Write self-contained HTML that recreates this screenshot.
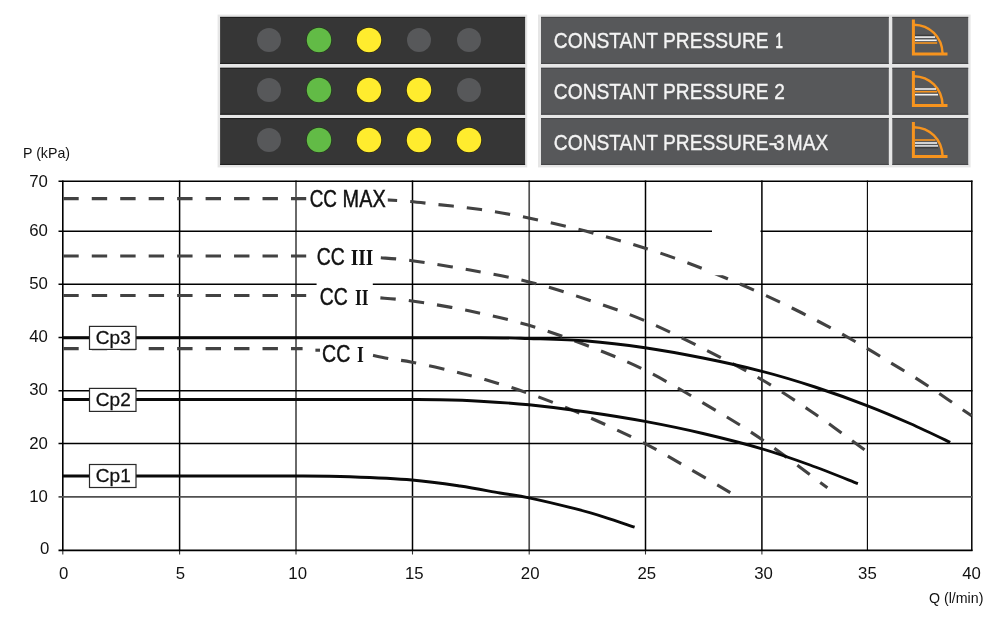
<!DOCTYPE html>
<html><head><meta charset="utf-8"><title>Pump curves</title>
<style>html,body{margin:0;padding:0;background:#fff}body{width:1000px;height:619px;position:relative;overflow:hidden;font-family:"Liberation Sans",sans-serif}</style>
</head><body>
<svg width="1000" height="619" viewBox="0 0 1000 619" style="position:absolute;left:0;top:0">
<rect width="1000" height="619" fill="#fff"/>
<rect x="217.6" y="14.6" width="309.6" height="152.8" fill="#e6e6e6"/>
<rect x="220.1" y="16.9" width="305" height="47.0" fill="#363636"/>
<path d="M220.1 17.4 H525.1 M220.1 63.4 H525.1" stroke="#1c1c1c" stroke-width="1" fill="none"/>
<rect x="220.1" y="67.8" width="305" height="46.9" fill="#363636"/>
<path d="M220.1 68.3 H525.1 M220.1 114.2 H525.1" stroke="#1c1c1c" stroke-width="1" fill="none"/>
<rect x="220.1" y="118.1" width="305" height="46.8" fill="#363636"/>
<path d="M220.1 118.6 H525.1 M220.1 164.4 H525.1" stroke="#1c1c1c" stroke-width="1" fill="none"/>
<circle cx="269" cy="40" r="12" fill="#57585a"/>
<circle cx="319" cy="40" r="12.8" fill="#1f3a14"/>
<circle cx="319" cy="40" r="12.25" fill="#62bb46"/>
<circle cx="369" cy="40" r="12.8" fill="#2c2705"/>
<circle cx="369" cy="40" r="12.25" fill="#ffec2e"/>
<circle cx="419" cy="40" r="12" fill="#57585a"/>
<circle cx="469" cy="40" r="12" fill="#57585a"/>
<circle cx="269" cy="90" r="12" fill="#57585a"/>
<circle cx="319" cy="90" r="12.8" fill="#1f3a14"/>
<circle cx="319" cy="90" r="12.25" fill="#62bb46"/>
<circle cx="369" cy="90" r="12.8" fill="#2c2705"/>
<circle cx="369" cy="90" r="12.25" fill="#ffec2e"/>
<circle cx="419" cy="90" r="12.8" fill="#2c2705"/>
<circle cx="419" cy="90" r="12.25" fill="#ffec2e"/>
<circle cx="469" cy="90" r="12" fill="#57585a"/>
<circle cx="269" cy="140" r="12" fill="#57585a"/>
<circle cx="319" cy="140" r="12.8" fill="#1f3a14"/>
<circle cx="319" cy="140" r="12.25" fill="#62bb46"/>
<circle cx="369" cy="140" r="12.8" fill="#2c2705"/>
<circle cx="369" cy="140" r="12.25" fill="#ffec2e"/>
<circle cx="419" cy="140" r="12.8" fill="#2c2705"/>
<circle cx="419" cy="140" r="12.25" fill="#ffec2e"/>
<circle cx="469" cy="140" r="12.8" fill="#2c2705"/>
<circle cx="469" cy="140" r="12.25" fill="#ffec2e"/>
<rect x="538" y="14.6" width="432.6" height="152.8" fill="#e6e6e6"/>
<rect x="541" y="16.9" width="347.8" height="47.0" fill="#57585a"/>
<rect x="892.3" y="16.9" width="75.9" height="47.0" fill="#57585a"/>
<path d="M541 17.4 H888.8 M541 63.4 H888.8 M892.3 17.4 H968.2 M892.3 63.4 H968.2" stroke="#424345" stroke-width="1" fill="none"/>
<rect x="541" y="67.8" width="347.8" height="46.9" fill="#57585a"/>
<rect x="892.3" y="67.8" width="75.9" height="46.9" fill="#57585a"/>
<path d="M541 68.3 H888.8 M541 114.2 H888.8 M892.3 68.3 H968.2 M892.3 114.2 H968.2" stroke="#424345" stroke-width="1" fill="none"/>
<rect x="541" y="118.1" width="347.8" height="46.8" fill="#57585a"/>
<rect x="892.3" y="118.1" width="75.9" height="46.8" fill="#57585a"/>
<path d="M541 118.6 H888.8 M541 164.4 H888.8 M892.3 118.6 H968.2 M892.3 164.4 H968.2" stroke="#424345" stroke-width="1" fill="none"/>
<text transform="translate(553.82 48.30) scale(0.8939 1)" font-family='"Liberation Sans", sans-serif' font-size="21.5" fill="#f4f4f4" stroke="#f4f4f4" stroke-width="0.35">CONSTANT PRESSURE</text>
<text transform="translate(775.59 48.30) scale(0.6151 1)" font-family='"Liberation Sans", sans-serif' font-size="21.5" fill="#f4f4f4" stroke="#fff" stroke-width="0.6">1</text>
<text transform="translate(553.82 99.30) scale(0.8939 1)" font-family='"Liberation Sans", sans-serif' font-size="21.5" fill="#f4f4f4" stroke="#f4f4f4" stroke-width="0.35">CONSTANT PRESSURE</text>
<text transform="translate(774.35 99.30) scale(0.8874 1)" font-family='"Liberation Sans", sans-serif' font-size="21.5" fill="#f4f4f4" stroke="#f4f4f4" stroke-width="0.35">2</text>
<text transform="translate(553.82 149.60) scale(0.8939 1)" font-family='"Liberation Sans", sans-serif' font-size="21.5" fill="#f4f4f4" stroke="#f4f4f4" stroke-width="0.35">CONSTANT PRESSURE</text>
<text transform="translate(768.41 149.60) scale(1.2530 1)" font-family='"Liberation Sans", sans-serif' font-size="21.5" fill="#f4f4f4" stroke="#f4f4f4" stroke-width="0.35">-</text>
<text transform="translate(773.45 149.60) scale(0.9224 1)" font-family='"Liberation Sans", sans-serif' font-size="21.5" fill="#f4f4f4" stroke="#f4f4f4" stroke-width="0.35">3</text>
<text transform="translate(786.83 149.60) scale(0.8879 1)" font-family='"Liberation Sans", sans-serif' font-size="21.5" fill="#f4f4f4" stroke="#f4f4f4" stroke-width="0.35">MAX</text>
<g fill="none" stroke="#f7941e">
<path d="M913.4 19.6 V54.1 H947.5" stroke-width="3"/>
<path d="M914 24.8 C 929.5 25.2 942 36.6 942.6 53.6" stroke-width="2.4"/>
</g>
<path d="M915 35.5 H933.5" stroke="#3c3c3c" stroke-width="1.6" fill="none"/>
<path d="M915 37.1 H935.0" stroke="#f2f2f2" stroke-width="1.6" fill="none"/>
<path d="M915 40.3 H936.7" stroke="#f2f2f2" stroke-width="1.6" fill="none"/>
<path d="M915 43.0 H937.2" stroke="#f7941e" stroke-width="1.6" fill="none"/>
<g fill="none" stroke="#f7941e">
<path d="M913.4 71.1 V105.6 H947.5" stroke-width="3"/>
<path d="M914 76.3 C 929.5 76.7 942 88.1 942.6 105.1" stroke-width="2.4"/>
</g>
<path d="M915 89.0 H936.0" stroke="#f2f2f2" stroke-width="1.6" fill="none"/>
<path d="M915 91.7 H937.0" stroke="#f7941e" stroke-width="1.6" fill="none"/>
<path d="M915 94.7 H938.0" stroke="#f2f2f2" stroke-width="1.6" fill="none"/>
<g fill="none" stroke="#f7941e">
<path d="M913.4 122.0 V156.5 H947.5" stroke-width="3"/>
<path d="M914 127.2 C 929.5 127.6 942 139.0 942.6 156.0" stroke-width="2.4"/>
</g>
<path d="M915 140.0 H935.5" stroke="#f7941e" stroke-width="1.6" fill="none"/>
<path d="M915 143.0 H937.0" stroke="#f2f2f2" stroke-width="1.6" fill="none"/>
<path d="M915 146.0 H938.0" stroke="#f2f2f2" stroke-width="1.6" fill="none"/>
<path d="M915 147.6 H938.0" stroke="#3c3c3c" stroke-width="1.6" fill="none"/>
<g stroke="#000" fill="none">
<path d="M62.8 180.6 V551" stroke-width="1.6"/>
<path d="M62.8 551 V554.5" stroke-width="1.1" stroke="#333"/>
<path d="M179.6 180.6 V551" stroke-width="1.5"/>
<path d="M179.6 551 V554.5" stroke-width="1.1" stroke="#333"/>
<path d="M296.0 180.6 V551" stroke-width="1.7" stroke="#505050"/>
<path d="M296.0 551 V554.5" stroke-width="1.1" stroke="#333"/>
<path d="M412.5 180.6 V551" stroke-width="1.5"/>
<path d="M412.5 551 V554.5" stroke-width="1.1" stroke="#333"/>
<path d="M529.2 180.6 V551" stroke-width="1.7" stroke="#505050"/>
<path d="M529.2 551 V554.5" stroke-width="1.1" stroke="#333"/>
<path d="M645.5 180.6 V551" stroke-width="1.5"/>
<path d="M645.5 551 V554.5" stroke-width="1.1" stroke="#333"/>
<path d="M761.9 180.6 V551" stroke-width="1.5"/>
<path d="M761.9 551 V554.5" stroke-width="1.1" stroke="#333"/>
<path d="M867.4 180.6 V551" stroke-width="1.1"/>
<path d="M971.8 180.6 V551" stroke-width="1.5"/>
<path d="M58.5 181.3 H972.5" stroke-width="1.5"/>
<path d="M58.5 231.2 H972.5" stroke-width="1.5"/>
<path d="M58.5 284.2 H972.5" stroke-width="1.5"/>
<path d="M58.5 337.6 H972.5" stroke-width="1.5"/>
<path d="M58.5 390.7 H972.5" stroke-width="1.5"/>
<path d="M58.5 443.5 H972.5" stroke-width="1.5"/>
<path d="M58.5 496.8 H972.5" stroke-width="1.7" stroke="#505050"/>
<path d="M58.5 550.3 H972.5" stroke-width="1.7"/>
</g>
<rect x="712" y="228" width="48.3" height="6" fill="#fff"/>
<rect x="316.6" y="281" width="56.2" height="6" fill="#fff"/>
<g stroke="#424242" stroke-width="3.1" fill="none" stroke-dasharray="15.4 13.06">
<path d="M63.3 198.6 H306.2"/>
<path d="M63.3 256.0 H306.2"/>
<path d="M63.3 295.5 H306.2"/>
<path d="M63.3 348.6 H302.6"/>
<path d="M315.4 350.2 H320"/>
<path d="M381.5 199.6 C386.2 199.9 400.6 200.7 410.0 201.5 C419.4 202.3 428.2 203.5 437.6 204.5 C447.0 205.5 456.8 206.4 466.2 207.6 C475.6 208.8 484.5 210.0 493.8 211.5 C503.1 213.0 512.5 214.8 521.8 216.6 C531.1 218.4 540.3 220.5 549.7 222.6 C559.1 224.7 568.6 226.8 578.0 229.2 C587.4 231.5 596.8 234.1 606.0 236.7 C615.2 239.2 624.0 241.8 633.0 244.5 C642.0 247.2 650.5 249.8 660.0 253.0 C669.5 256.2 680.7 260.2 690.0 263.7 C699.3 267.2 707.7 270.6 716.0 274.0 C724.3 277.4 731.7 280.4 740.0 284.0 C748.3 287.6 757.3 291.6 766.0 295.6 C774.7 299.6 783.4 303.8 792.0 308.0 C800.6 312.2 809.4 316.7 817.7 321.0 C826.0 325.3 833.8 329.4 842.0 334.0 C850.2 338.6 858.8 343.6 867.0 348.4 C875.2 353.2 883.0 358.1 891.0 363.0 C899.0 367.9 907.0 372.5 915.0 377.6 C923.0 382.7 931.1 388.1 939.0 393.4 C946.9 398.7 957.2 405.9 962.6 409.6 C968.0 413.3 970.1 414.8 971.6 415.8" stroke-dashoffset="-0.3"/>
<path d="M380.0 257.7 C385.3 258.2 397.0 258.6 412.0 260.7 C427.0 262.8 450.5 266.5 470.0 270.0 C489.5 273.5 509.5 277.0 529.0 281.9 C548.5 286.8 567.7 293.0 587.0 299.5 C606.3 306.0 625.7 312.6 645.0 320.8 C664.3 329.0 683.5 338.7 703.0 348.5 C722.5 358.3 743.3 368.9 762.0 379.8 C780.7 390.7 797.8 402.3 815.0 414.0 C832.2 425.7 856.7 444.2 865.0 450.2" stroke-dashoffset="-1.0"/>
<path d="M379.4 297.8 C384.8 298.3 396.9 298.8 412.0 301.0 C427.1 303.2 450.5 306.9 470.0 311.0 C489.5 315.1 509.5 319.6 529.0 325.3 C548.5 331.1 567.7 338.0 587.0 345.5 C606.3 353.0 625.7 360.6 645.0 370.2 C664.3 379.8 683.5 391.2 703.0 402.8 C722.5 414.4 741.3 425.3 762.0 439.5 C782.7 453.7 816.5 479.8 827.4 487.8" stroke-dashoffset="-1.2"/>
<path d="M372.2 355.2 C374.9 355.8 381.8 357.4 388.4 358.6 C395.0 359.8 401.7 360.2 412.0 362.2 C422.3 364.2 437.8 367.6 450.0 370.5 C462.2 373.4 471.8 375.8 485.0 379.6 C498.2 383.4 512.0 387.4 529.0 393.5 C546.0 399.6 567.7 408.0 587.0 416.4 C606.3 424.8 627.8 434.8 645.0 443.6 C662.2 452.4 675.7 460.8 690.0 469.0 C704.3 477.2 723.8 488.8 730.6 492.8" stroke-dashoffset="-1.0"/>
</g>
<rect x="712" y="228" width="48.3" height="47.2" fill="#fff"/>
<g stroke="#0a0a0a" stroke-width="2.9" fill="none">
<path d="M63.0 337.7 C102.5 337.7 230.5 337.7 300.0 337.7 C369.5 337.7 441.8 337.6 480.0 337.7 C518.2 337.8 511.2 337.9 529.0 338.5 C546.8 339.1 567.7 339.5 587.0 341.0 C606.3 342.5 625.7 344.9 645.0 347.7 C664.3 350.5 683.5 354.1 703.0 358.0 C722.5 361.9 743.3 366.5 762.0 371.3 C780.7 376.1 797.4 381.2 815.0 387.0 C832.6 392.8 851.8 399.7 867.6 405.8 C883.4 411.9 896.2 417.4 910.0 423.5 C923.8 429.6 943.5 439.2 950.2 442.4"/>
<path d="M63.0 399.5 C94.2 399.5 193.8 399.5 250.0 399.5 C306.2 399.5 368.3 399.4 400.0 399.5 C431.7 399.6 426.7 399.5 440.0 399.8 C453.3 400.1 465.2 400.4 480.0 401.2 C494.8 402.0 511.2 403.0 529.0 404.8 C546.8 406.6 567.7 409.2 587.0 412.0 C606.3 414.8 625.7 417.8 645.0 421.4 C664.3 425.0 683.5 428.9 703.0 433.5 C722.5 438.1 744.2 443.6 762.0 448.8 C779.8 454.1 794.0 459.2 810.0 465.0 C826.0 470.8 849.9 480.5 857.9 483.6"/>
<path d="M63.0 476.0 C85.8 476.0 160.5 476.0 200.0 476.0 C239.5 476.0 275.0 475.9 300.0 476.0 C325.0 476.1 331.3 476.1 350.0 476.8 C368.7 477.5 393.7 478.5 412.0 480.0 C430.3 481.5 445.3 483.8 460.0 486.0 C474.7 488.2 488.5 491.0 500.0 493.0 C511.5 495.0 516.5 495.2 529.0 497.8 C541.5 500.4 562.3 505.4 575.0 508.7 C587.7 511.9 595.1 514.2 605.0 517.3 C614.9 520.4 629.7 525.6 634.6 527.2"/>
</g>
<rect x="340.0" y="194.0" width="47.8" height="12.0" fill="#fff"/>
<rect x="345.0" y="252.0" width="35.0" height="12.0" fill="#fff"/>
<rect x="345.0" y="292.0" width="34.4" height="12.0" fill="#fff"/>
<rect x="345.0" y="350.0" width="27.2" height="12.0" fill="#fff"/>
<text transform="translate(309.64 207.00) scale(0.7807 1)" font-family='"Liberation Sans", sans-serif' font-size="24.2" fill="#111" stroke="#111" stroke-width="0.45">CC</text>
<text transform="translate(342.57 207.00) scale(0.8228 1)" font-family='"Liberation Sans", sans-serif' font-size="24.2" fill="#111" stroke="#111" stroke-width="0.45">MAX</text>
<text transform="translate(316.71 264.80) scale(0.8020 1)" font-family='"Liberation Sans", sans-serif' font-size="24.2" fill="#111" stroke="#111" stroke-width="0.45">CC</text>
<text transform="translate(350.64 264.80) scale(0.8286 1)" font-family='"Liberation Serif", serif' font-weight="bold" font-size="23.5" fill="#111">III</text>
<text transform="translate(319.71 304.60) scale(0.8020 1)" font-family='"Liberation Sans", sans-serif' font-size="24.2" fill="#111" stroke="#111" stroke-width="0.45">CC</text>
<text transform="translate(354.91 304.60) scale(0.7432 1)" font-family='"Liberation Serif", serif' font-weight="bold" font-size="23.5" fill="#111">II</text>
<text transform="translate(322.10 362.40) scale(0.8081 1)" font-family='"Liberation Sans", sans-serif' font-size="24.2" fill="#111" stroke="#111" stroke-width="0.45">CC</text>
<text transform="translate(356.91 362.40) scale(0.7424 1)" font-family='"Liberation Serif", serif' font-weight="bold" font-size="23.5" fill="#111">I</text>
<rect x="89.5" y="326.4" width="46.5" height="23" fill="#fff" stroke="#2a2a2a" stroke-width="1.2"/>
<text x="113.3" y="343.7" text-anchor="middle" font-family='"Liberation Sans", sans-serif' font-size="19" fill="#111" stroke="#111" stroke-width="0.3">Cp3</text>
<rect x="89.5" y="388.4" width="46.5" height="23" fill="#fff" stroke="#2a2a2a" stroke-width="1.2"/>
<text x="113.3" y="405.7" text-anchor="middle" font-family='"Liberation Sans", sans-serif' font-size="19" fill="#111" stroke="#111" stroke-width="0.3">Cp2</text>
<rect x="89.5" y="464.5" width="46.5" height="23" fill="#fff" stroke="#2a2a2a" stroke-width="1.2"/>
<text x="113.3" y="481.8" text-anchor="middle" font-family='"Liberation Sans", sans-serif' font-size="19" fill="#111" stroke="#111" stroke-width="0.3">Cp1</text>
<text x="47.8" y="187.1" text-anchor="end" font-family='"Liberation Sans", sans-serif' font-size="16.8" fill="#111">70</text>
<text x="47.8" y="235.6" text-anchor="end" font-family='"Liberation Sans", sans-serif' font-size="16.8" fill="#111">60</text>
<text x="47.8" y="288.5" text-anchor="end" font-family='"Liberation Sans", sans-serif' font-size="16.8" fill="#111">50</text>
<text x="47.8" y="341.9" text-anchor="end" font-family='"Liberation Sans", sans-serif' font-size="16.8" fill="#111">40</text>
<text x="47.8" y="395.2" text-anchor="end" font-family='"Liberation Sans", sans-serif' font-size="16.8" fill="#111">30</text>
<text x="47.8" y="449.1" text-anchor="end" font-family='"Liberation Sans", sans-serif' font-size="16.8" fill="#111">20</text>
<text x="47.8" y="502.0" text-anchor="end" font-family='"Liberation Sans", sans-serif' font-size="16.8" fill="#111">10</text>
<text x="49.4" y="553.7" text-anchor="end" font-family='"Liberation Sans", sans-serif' font-size="16.8" fill="#111">0</text>
<text x="63.6" y="578.6" text-anchor="middle" font-family='"Liberation Sans", sans-serif' font-size="16.8" fill="#111">0</text>
<text x="180.5" y="578.6" text-anchor="middle" font-family='"Liberation Sans", sans-serif' font-size="16.8" fill="#111">5</text>
<text x="297.7" y="578.6" text-anchor="middle" font-family='"Liberation Sans", sans-serif' font-size="16.8" fill="#111">10</text>
<text x="414.3" y="578.6" text-anchor="middle" font-family='"Liberation Sans", sans-serif' font-size="16.8" fill="#111">15</text>
<text x="530.2" y="578.6" text-anchor="middle" font-family='"Liberation Sans", sans-serif' font-size="16.8" fill="#111">20</text>
<text x="646.8" y="578.6" text-anchor="middle" font-family='"Liberation Sans", sans-serif' font-size="16.8" fill="#111">25</text>
<text x="763.5" y="578.6" text-anchor="middle" font-family='"Liberation Sans", sans-serif' font-size="16.8" fill="#111">30</text>
<text x="867.4" y="578.6" text-anchor="middle" font-family='"Liberation Sans", sans-serif' font-size="16.8" fill="#111">35</text>
<text x="971.6" y="578.6" text-anchor="middle" font-family='"Liberation Sans", sans-serif' font-size="16.8" fill="#111">40</text>
<text x="23" y="157.9" font-family='"Liberation Sans", sans-serif' font-size="14.2" fill="#111">P (kPa)</text>
<text x="983.4" y="603.2" text-anchor="end" font-family='"Liberation Sans", sans-serif' font-size="14.2" fill="#111">Q (l/min)</text>
</svg>
</body></html>
